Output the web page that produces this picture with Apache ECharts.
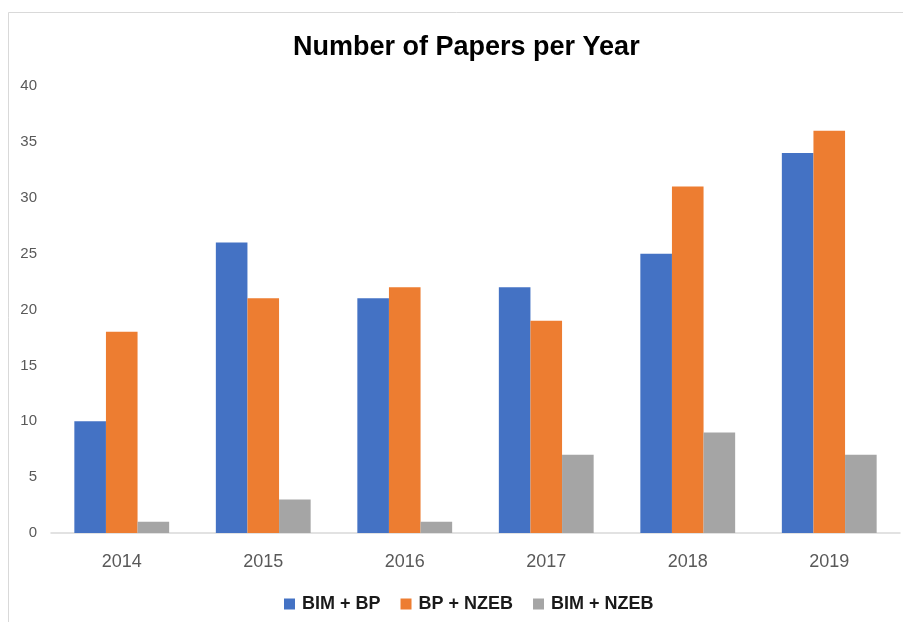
<!DOCTYPE html>
<html>
<head>
<meta charset="utf-8">
<script src="https://cdn.jsdelivr.net/npm/echarts@6/dist/echarts.min.js"></script>
<style>
html, body { margin: 0; padding: 0; background: #fff; }
#chart { width: 903px; height: 622px; }
</style>
</head>
<body>
<div id="chart"></div>
<script>
// data
const years = ["2014", "2015", "2016", "2017", "2018", "2019"];
const bimBp = [10, 26, 21, 22, 25, 34];
const bpNzeb = [18, 21, 22, 19, 31, 36];
const bimNzeb = [1, 3, 1, 7, 9, 7];

const FONT = "Liberation Sans";

const chart = echarts.init(document.getElementById("chart"), null, { renderer: "canvas" });

function bar(name, data, color)
{
    return {
        name: name,
        type: "bar",
        data: data,
        barGap: "0%",
        barCategoryGap: "33%",
        itemStyle: { color: color }
    };
}

chart.setOption({
    animation: false,
    backgroundColor: "#fff",
    // chart area frame, only top and left edges fall inside the picture
    graphic: [{
        type: "rect",
        shape: { x: 8.5, y: 12.5, width: 1000, height: 700 },
        style: { fill: "none", stroke: "#d9d9d9", lineWidth: 1 },
        silent: true
    }],
    title: {
        text: "Number of Papers per Year",
        left: 288,
        top: 29,
        textStyle: { fontFamily: FONT, fontSize: 27, fontWeight: "bold", color: "#000" }
    },
    legend: {
        top: 590,
        left: 279,
        itemWidth: 11,
        itemHeight: 11,
        itemGap: 20,
        icon: "rect",
        textStyle: { fontFamily: FONT, fontSize: 18, fontWeight: "bold", color: "#1a1a1a", padding: [0, 0, 0, 2] }
    },
    grid: { left: 51, right: 3, top: 86, bottom: 89 },
    xAxis: {
        type: "category",
        data: years,
        axisLine: { lineStyle: { color: "#d9d9d9", width: 1.5 } },
        axisTick: { show: false },
        axisLabel: { fontFamily: FONT, fontSize: 18, color: "#595959", margin: 20 }
    },
    yAxis: {
        type: "value",
        min: 0,
        max: 40,
        interval: 5,
        splitLine: { show: false },
        axisLine: { show: false },
        axisTick: { show: false },
        axisLabel: { fontFamily: FONT, fontSize: 15, color: "#595959", margin: 14 }
    },
    series: [
        bar("BIM + BP", bimBp, "#4472C4"),
        bar("BP + NZEB", bpNzeb, "#ED7D31"),
        bar("BIM + NZEB", bimNzeb, "#A5A5A5")
    ]
});
</script>
</body>
</html>
